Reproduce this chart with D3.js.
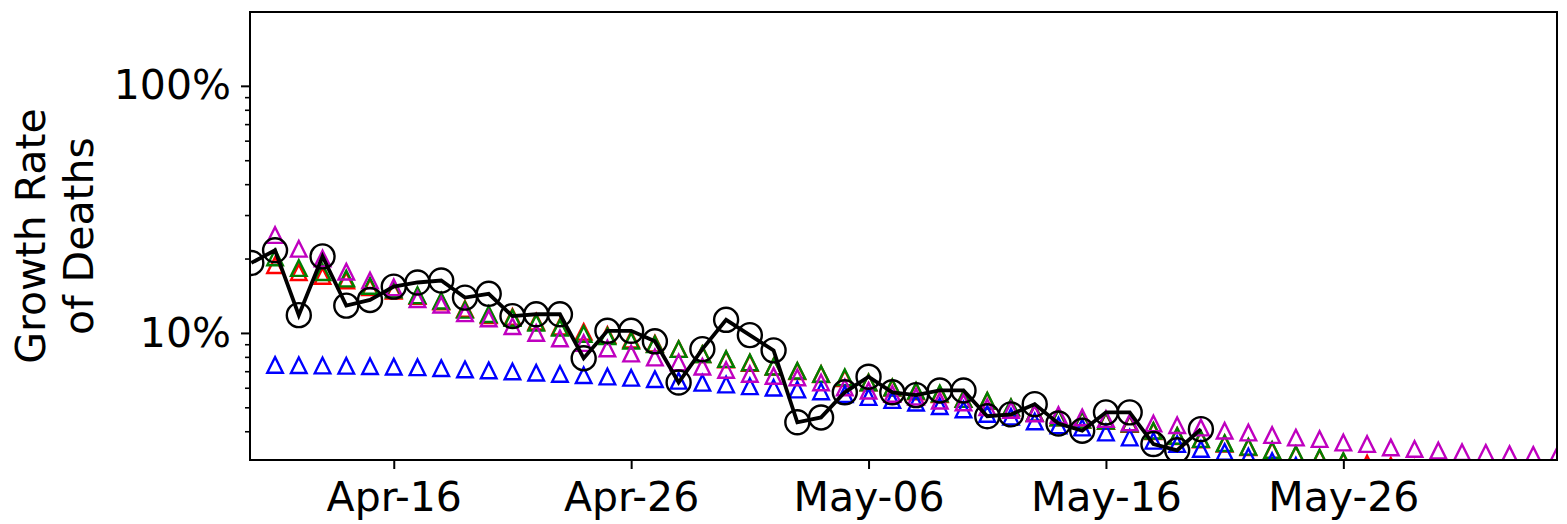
<!DOCTYPE html>
<html>
<head>
<meta charset="utf-8">
<script src="https://cdn.jsdelivr.net/npm/d3@7"></script>
<style>
  body { margin: 0; background: #fff; }
  svg { display: block; font-family: "DejaVu Sans", sans-serif; }
</style>
</head>
<body>
<svg id="chart"></svg>
<script>
// data (growth rate of deaths, in %), one value per day from Apr-10
const days = [
  '2020-04-10','2020-04-11','2020-04-12','2020-04-13','2020-04-14','2020-04-15','2020-04-16','2020-04-17',
  '2020-04-18','2020-04-19','2020-04-20','2020-04-21','2020-04-22','2020-04-23','2020-04-24','2020-04-25',
  '2020-04-26','2020-04-27','2020-04-28','2020-04-29','2020-04-30','2020-05-01','2020-05-02','2020-05-03',
  '2020-05-04','2020-05-05','2020-05-06','2020-05-07','2020-05-08','2020-05-09','2020-05-10','2020-05-11',
  '2020-05-12','2020-05-13','2020-05-14','2020-05-15','2020-05-16','2020-05-17','2020-05-18','2020-05-19',
  '2020-05-20','2020-05-21','2020-05-22','2020-05-23','2020-05-24','2020-05-25','2020-05-26','2020-05-27',
  '2020-05-28','2020-05-29','2020-05-30','2020-05-31','2020-06-01','2020-06-02','2020-06-03','2020-06-04'
];

const observed = [
  19.2, 21.6, 11.8, 20.4, 12.9, 13.6, 15.4, 16.0, 16.3, 13.9, 14.4, 11.7, 11.9, 11.9, 7.9, 10.2,
  10.2, 9.25, 6.3, 8.6, 11.3, 9.8, 8.5, 4.35, 4.55, 5.75, 6.65, 5.75, 5.6, 5.85, 5.85, 4.6,
  4.68, 5.15, 4.3, 4.02, 4.77, 4.77, 3.55, 3.35, 4.08
];

const redSeries = [
  null, 18.8, 17.6, 17.0, 16.3, 15.3, 14.8, 14.1, 13.4, 12.5, 11.8, 11.6, 11.1, 10.6, 10.1, 9.8,
  9.4, 9.05, 8.6, 8.2, 7.8, 7.55, 7.3, 7.0, 6.8, 6.55, 6.3, 6.0, 5.8, 5.65, 5.4, 5.3,
  4.98, 4.75, 4.55, 4.45, 4.4, 4.28, 4.0, 3.82, 3.7, 3.56, 3.45, 3.34, 3.22, 3.12, 3.02, 2.96,
  2.9, 2.82
];

const greenSeries = [
  null, 20.2, 18.3, 17.6, 16.6, 15.5, 15.0, 14.2, 13.5, 12.4, 11.9, 11.5, 11.0, 10.5, 9.9, 9.7,
  9.3, 9.0, 8.6, 8.2, 7.84, 7.6, 7.3, 7.03, 6.82, 6.61, 6.3, 6.02, 5.84, 5.69, 5.4, 5.32,
  5.0, 4.75, 4.55, 4.45, 4.41, 4.3, 4.02, 3.83, 3.72, 3.58, 3.46, 3.36, 3.23, 3.13, 3.03, 2.82
];

const magentaSeries = [
  null, 24.9, 21.9, 20.0, 17.7, 16.3, 15.3, 13.7, 13.0, 12.0, 11.45, 10.65, 10.0, 9.5, 9.1, 8.65,
  8.25, 7.95, 7.6, 7.3, 7.08, 6.82, 6.7, 6.6, 6.3, 6.02, 5.84, 5.66, 5.52, 5.32, 5.23, 5.0,
  4.88, 4.72, 4.65, 4.55, 4.48, 4.34, 4.3, 4.23, 4.14, 4.02, 3.95, 3.86, 3.77, 3.72, 3.6, 3.55,
  3.44, 3.39, 3.34, 3.29, 3.27, 3.23, 3.21, 3.18
];

const blueSeries = [
  null, 7.42, 7.4, 7.38, 7.36, 7.33, 7.3, 7.26, 7.2, 7.12, 7.05, 6.98, 6.9, 6.82, 6.74, 6.66,
  6.58, 6.5, 6.4, 6.28, 6.18, 6.08, 6.0, 5.9, 5.8, 5.65, 5.5, 5.35, 5.22, 5.05, 4.9, 4.7,
  4.58, 4.38, 4.22, 4.14, 3.95, 3.77, 3.66, 3.55, 3.39, 3.3, 3.16, 3.03, 2.9
];

const xTickDates = ['2020-04-16', '2020-04-26', '2020-05-06', '2020-05-16', '2020-05-26'];
const yMajorTicks = [10, 100];
const yMinorTicks = [4, 5, 6, 7, 8, 9, 20, 30, 40, 50, 60, 70, 80, 90];
const yTitle = ['Growth Rate', 'of Deaths'];

// layout
const width = 1567;
const height = 524;
const plotLeft = 250, plotRight = 1557, plotTop = 12, plotBottom = 460;
const fontSize = 41;

const parse = d3.timeParse('%Y-%m-%d');
const svg = d3.select('#chart').attr('width', width).attr('height', height);

const xStart = d3.timeMinute.offset(parse('2020-04-10'), -80);
const xEnd = parse('2020-06-04');
const x = d3.scaleTime().domain([xStart, xEnd]).range([plotLeft, plotRight]);
const y = d3.scaleLog().domain([3.06, 199]).range([plotBottom, plotTop]);

svg.append('clipPath').attr('id', 'plot-clip')
  .append('rect')
  .attr('x', plotLeft).attr('y', plotTop)
  .attr('width', plotRight - plotLeft).attr('height', plotBottom - plotTop);

const plot = svg.append('g').attr('clip-path', 'url(#plot-clip)');

let toPoints = (values) => values
  .map((v, i) => ({ date: parse(days[i]), value: v }))
  .filter(p => p.value != null);

// matplotlib style '^' marker: apex up, base down, box centred on the point
const h = 7.8;
const trianglePath = `M0,${-h}L${h},${h}L${-h},${h}Z`;

let drawTriangles = (values, color) => {
  plot.append('g')
    .selectAll('path')
    .data(toPoints(values))
    .enter()
    .append('path')
    .attr('d', trianglePath)
    .attr('transform', d => `translate(${x(d.date)},${y(d.value)})`)
    .attr('fill', 'none')
    .attr('stroke', color)
    .attr('stroke-width', 2.4);
};

drawTriangles(redSeries, '#ff0000');
drawTriangles(greenSeries, '#008000');
drawTriangles(blueSeries, '#0000ff');
drawTriangles(magentaSeries, '#bf00bf');

const obsPoints = toPoints(observed);

plot.append('path')
  .datum(obsPoints)
  .attr('fill', 'none')
  .attr('stroke', '#000')
  .attr('stroke-width', 3.8)
  .attr('stroke-linejoin', 'miter')
  .attr('d', d3.line().x(d => x(d.date)).y(d => y(d.value)));

plot.append('g')
  .selectAll('circle')
  .data(obsPoints)
  .enter()
  .append('circle')
  .attr('cx', d => x(d.date))
  .attr('cy', d => y(d.value))
  .attr('r', 12)
  .attr('fill', 'none')
  .attr('stroke', '#000')
  .attr('stroke-width', 2.4);

// axes
const xAxis = d3.axisBottom(x)
  .tickValues(xTickDates.map(parse))
  .tickFormat(d3.timeFormat('%b-%d'))
  .tickSize(9)
  .tickPadding(13);

svg.append('g')
  .attr('transform', `translate(0,${plotBottom})`)
  .call(xAxis)
  .call(g => g.select('.domain').remove())
  .call(g => g.selectAll('line').attr('stroke-width', 2))
  .call(g => g.selectAll('text').attr('font-size', fontSize).attr('fill', '#000')
    .attr('font-family', '"DejaVu Sans", sans-serif'));

const yAxis = d3.axisLeft(y)
  .tickValues(yMajorTicks)
  .tickFormat(d => d + '%')
  .tickSize(9)
  .tickPadding(10);

svg.append('g')
  .attr('transform', `translate(${plotLeft},0)`)
  .call(yAxis)
  .call(g => g.select('.domain').remove())
  .call(g => g.selectAll('line').attr('stroke-width', 2))
  .call(g => g.selectAll('text').attr('font-size', fontSize).attr('fill', '#000')
    .attr('font-family', '"DejaVu Sans", sans-serif'));

svg.append('g')
  .attr('transform', `translate(${plotLeft},0)`)
  .call(d3.axisLeft(y).tickValues(yMinorTicks).tickFormat('').tickSize(5))
  .call(g => g.select('.domain').remove())
  .call(g => g.selectAll('line').attr('stroke-width', 1.6));

// frame
svg.append('rect')
  .attr('x', plotLeft).attr('y', plotTop)
  .attr('width', plotRight - plotLeft).attr('height', plotBottom - plotTop)
  .attr('fill', 'none')
  .attr('stroke', '#000')
  .attr('stroke-width', 2);

// y title, two lines
const title = svg.append('text')
  .attr('transform', 'rotate(-90)')
  .attr('text-anchor', 'middle')
  .attr('font-size', fontSize)
  .attr('fill', '#000');

title.selectAll('tspan')
  .data(yTitle)
  .enter()
  .append('tspan')
  .attr('x', -(plotTop + plotBottom) / 2)
  .attr('y', (d, i) => 45 + i * 48)
  .text(d => d);
</script>
</body>
</html>
